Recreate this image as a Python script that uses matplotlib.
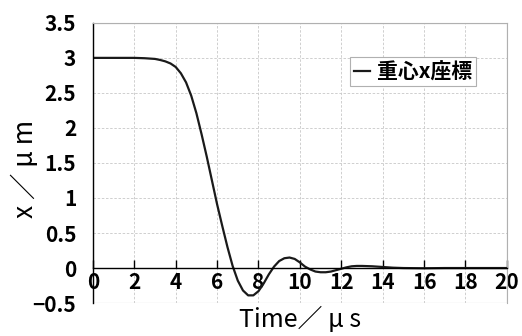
import numpy as np
import matplotlib.pyplot as plt
from matplotlib.patches import Rectangle

plt.rcParams['font.family'] = ['Noto Sans CJK JP', 'DejaVu Sans']

# 時間 [μs] と重心x座標 [μm]
tiempo = [0, 1, 2, 2.5, 3, 3.25, 3.5, 3.75, 4, 4.25, 4.5, 4.75, 5, 5.25, 5.5,
          5.75, 6, 6.25, 6.5, 6.75, 7, 7.25, 7.5, 7.75, 8, 8.25, 8.5, 8.75,
          9, 9.25, 9.5, 9.75, 10, 10.25, 10.5, 10.75, 11, 11.25, 11.5, 11.75,
          12, 12.25, 12.5, 12.75, 13, 13.5, 14, 14.5, 15, 16, 17, 18, 19, 20]
x_centro = [3.0, 3.0, 3.0, 2.995, 2.985, 2.97, 2.95, 2.92, 2.87, 2.78, 2.65,
            2.46, 2.21, 1.91, 1.59, 1.25, 0.91, 0.60, 0.30, 0.03, -0.18, -0.32,
            -0.39, -0.39, -0.33, -0.22, -0.09, 0.02, 0.10, 0.14, 0.15, 0.13,
            0.08, 0.02, -0.02, -0.05, -0.06, -0.06, -0.05, -0.03, -0.01, 0.01,
            0.025, 0.03, 0.03, 0.025, 0.015, 0.005, 0.0, -0.003, 0.0, 0.0, 0.0, 0.0]
x_ticks = [0, 2, 4, 6, 8, 10, 12, 14, 16, 18, 20]
y_ticks = [-0.5, 0, 0.5, 1, 1.5, 2, 2.5, 3, 3.5]
y_tick_labels = ['\u22120.5', '0', '0.5', '1', '1.5', '2', '2.5', '3', '3.5']

fig = plt.figure(figsize=(5.22, 3.36), dpi=100)
ax = fig.add_axes([0.178, 0.098, 0.793, 0.834])

ax.plot(tiempo, x_centro, color='#1a1a1a', linewidth=1.6, label='重心x座標')

ax.set_xlim(0, 20)
ax.set_ylim(-0.5, 3.5)
ax.set_xticks(x_ticks)
ax.set_yticks(y_ticks)
ax.set_yticklabels(y_tick_labels)

# グリッド（破線）
ax.grid(True, color='#c8c8c8', linestyle=(0, (3, 2)), linewidth=0.6)
ax.set_axisbelow(True)

# 軸の設定
for lado in ['top', 'right']:
    ax.spines[lado].set_color('#b0b0b0')
    ax.spines[lado].set_linewidth(0.8)
ax.spines['left'].set_color('black')
ax.spines['left'].set_linewidth(1.0)
ax.spines['bottom'].set_position(('data', 0))
ax.spines['bottom'].set_color('black')
ax.spines['bottom'].set_linewidth(1.0)
ax.add_patch(Rectangle((0, 0), 1, 1, transform=ax.transAxes, fill=False,
                       edgecolor='#b0b0b0', linewidth=0.8, zorder=0.5))

ax.tick_params(axis='x', direction='in', length=6, width=1.0, pad=3,
               labelsize=15)
ax.tick_params(axis='y', length=0, pad=12, labelsize=15)
for lbl in ax.get_xticklabels() + ax.get_yticklabels():
    lbl.set_fontweight('bold')

ax.set_xlabel('Time／ μ s', fontsize=18)
ax.xaxis.set_label_coords(0.5, -0.015)
ax.set_ylabel('x ／ μ m', fontsize=19)
ax.yaxis.set_label_coords(-0.13, 0.48)

leg = ax.legend(loc='upper left', bbox_to_anchor=(0.595, 0.915),
                handlelength=0.8, handletextpad=0.3, borderpad=0.2,
                fancybox=False, framealpha=1,
                prop={'size': 15, 'weight': 'bold'})
leg.get_frame().set_edgecolor('#b0b0b0')
leg.get_frame().set_linewidth(0.8)

plt.savefig('out.png', dpi=100)
plt.close()
